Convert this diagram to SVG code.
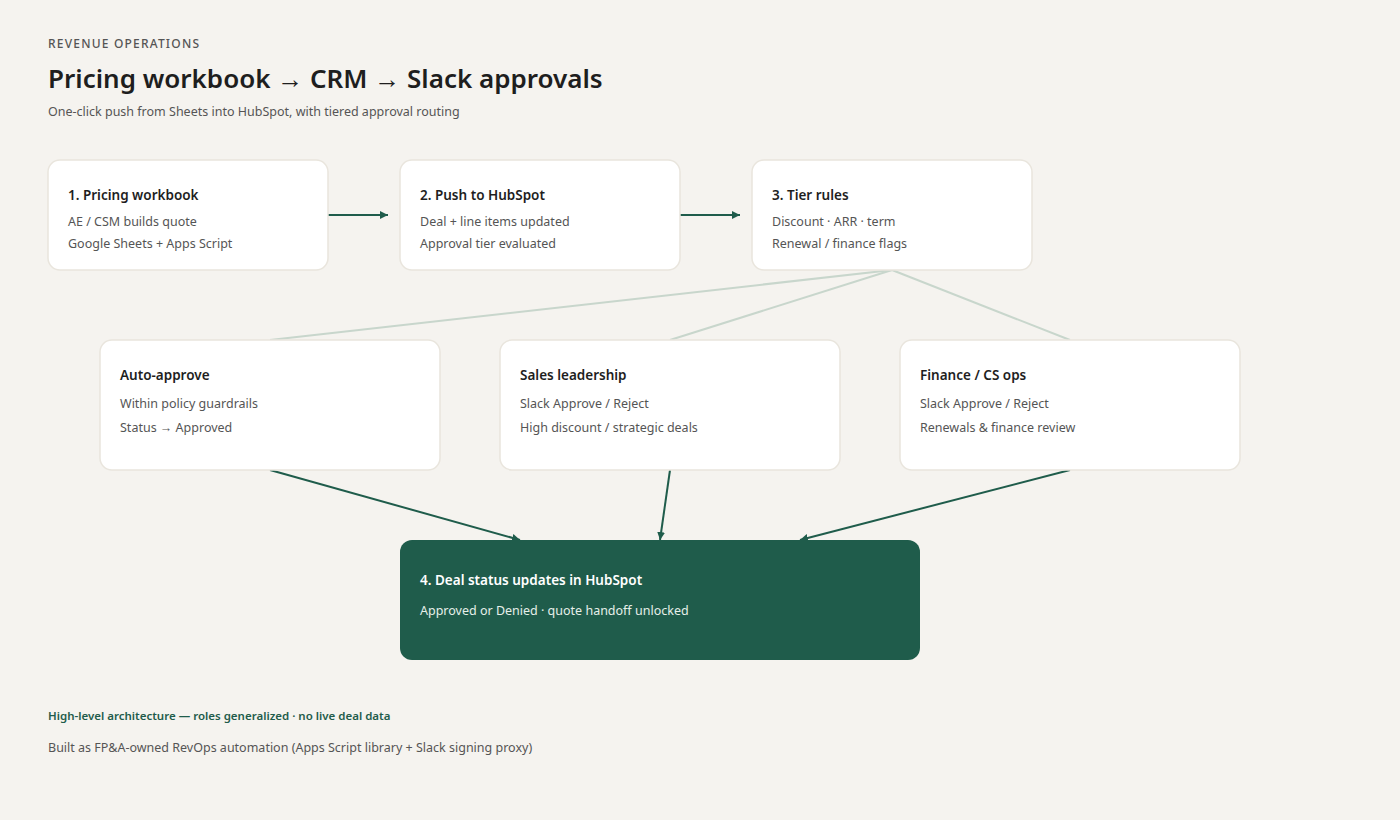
<svg xmlns="http://www.w3.org/2000/svg" width="1400" height="820" viewBox="0 0 1400 820">
<defs>
<style>
text{font-family:"Noto Sans","Open Sans","Liberation Sans",sans-serif}
.card{fill:#ffffff;stroke:#e9e5dd;stroke-width:1.5}
.t{font-size:13.5px;font-weight:600;fill:#1e1e1e}
.s{font-size:12.5px;fill:#555}
.g{stroke:#c8d6cc;stroke-width:2;fill:none}
.a{stroke:#1f5c4b;stroke-width:2;fill:none;marker-end:url(#ah)}
</style>
<marker id="ah" viewBox="0 0 10 10" refX="10" refY="5" markerWidth="8" markerHeight="8" markerUnits="userSpaceOnUse" orient="auto"><path d="M0,0L10,5L0,10z" fill="#1f5c4b"/></marker>
<marker id="ah2" viewBox="0 0 10 10" refX="10" refY="5" markerWidth="16" markerHeight="16" markerUnits="userSpaceOnUse" orient="auto"><path d="M0,0L10,5L0,10z" fill="#1f5c4b"/></marker>
</defs>
<rect width="1400" height="820" fill="#f5f3ef"/>
<text x="48" y="48" font-size="12" letter-spacing="1.2" fill="#555" font-weight="500">REVENUE OPERATIONS</text>
<text x="48" y="88" font-size="26" font-weight="600" fill="#1e1e1e">Pricing workbook → CRM → Slack approvals</text>
<text x="48" y="116" font-size="12.5" fill="#555">One-click push from Sheets into HubSpot, with tiered approval routing</text>
<g id="connectors">
<line class="a" x1="328" y1="215" x2="388" y2="215" marker-end="url(#ah2)"/>
<line class="a" x1="680" y1="215" x2="740" y2="215" marker-end="url(#ah2)"/>
<line class="g" x1="892" y1="270" x2="270" y2="340"/>
<line class="g" x1="892" y1="270" x2="670" y2="340"/>
<line class="g" x1="892" y1="270" x2="1070" y2="340"/>
<line class="a" x1="270" y1="470" x2="520" y2="540" marker-end="url(#ah2)"/>
<line class="a" x1="670" y1="470" x2="660" y2="540" marker-end="url(#ah2)"/>
<line class="a" x1="1070" y1="470" x2="800" y2="540" marker-end="url(#ah2)"/>
</g>
<g id="n1"><rect class="card" x="48" y="160" width="280" height="110" rx="12"/><text class="t" x="68" y="200">1. Pricing workbook</text><text class="s" x="68" y="226">AE / CSM builds quote</text><text class="s" x="68" y="248">Google Sheets + Apps Script</text></g>
<g id="n2"><rect class="card" x="400" y="160" width="280" height="110" rx="12"/><text class="t" x="420" y="200">2. Push to HubSpot</text><text class="s" x="420" y="226">Deal + line items updated</text><text class="s" x="420" y="248">Approval tier evaluated</text></g>
<g id="n3"><rect class="card" x="752" y="160" width="280" height="110" rx="12"/><text class="t" x="772" y="200">3. Tier rules</text><text class="s" x="772" y="226">Discount · ARR · term</text><text class="s" x="772" y="248">Renewal / finance flags</text></g>
<g id="n4"><rect class="card" x="100" y="340" width="340" height="130" rx="12"/><text class="t" x="120" y="380">Auto-approve</text><text class="s" x="120" y="408">Within policy guardrails</text><text class="s" x="120" y="432">Status → Approved</text></g>
<g id="n5"><rect class="card" x="500" y="340" width="340" height="130" rx="12"/><text class="t" x="520" y="380">Sales leadership</text><text class="s" x="520" y="408">Slack Approve / Reject</text><text class="s" x="520" y="432">High discount / strategic deals</text></g>
<g id="n6"><rect class="card" x="900" y="340" width="340" height="130" rx="12"/><text class="t" x="920" y="380">Finance / CS ops</text><text class="s" x="920" y="408">Slack Approve / Reject</text><text class="s" x="920" y="432">Renewals &amp; finance review</text></g>
<g id="n7"><rect x="400" y="540" width="520" height="120" rx="12" fill="#1f5c4b"/><text class="t" x="420" y="585" fill="#ffffff" style="fill:#fff">4. Deal status updates in HubSpot</text><text class="s" x="420" y="615" style="fill:#e6efe9">Approved or Denied · quote handoff unlocked</text></g>
<text x="48" y="720" font-size="11.5" font-weight="600" fill="#1f5c4b">High-level architecture — roles generalized · no live deal data</text>
<text x="48" y="752" font-size="12.5" fill="#555">Built as FP&amp;A-owned RevOps automation (Apps Script library + Slack signing proxy)</text>
</svg>
